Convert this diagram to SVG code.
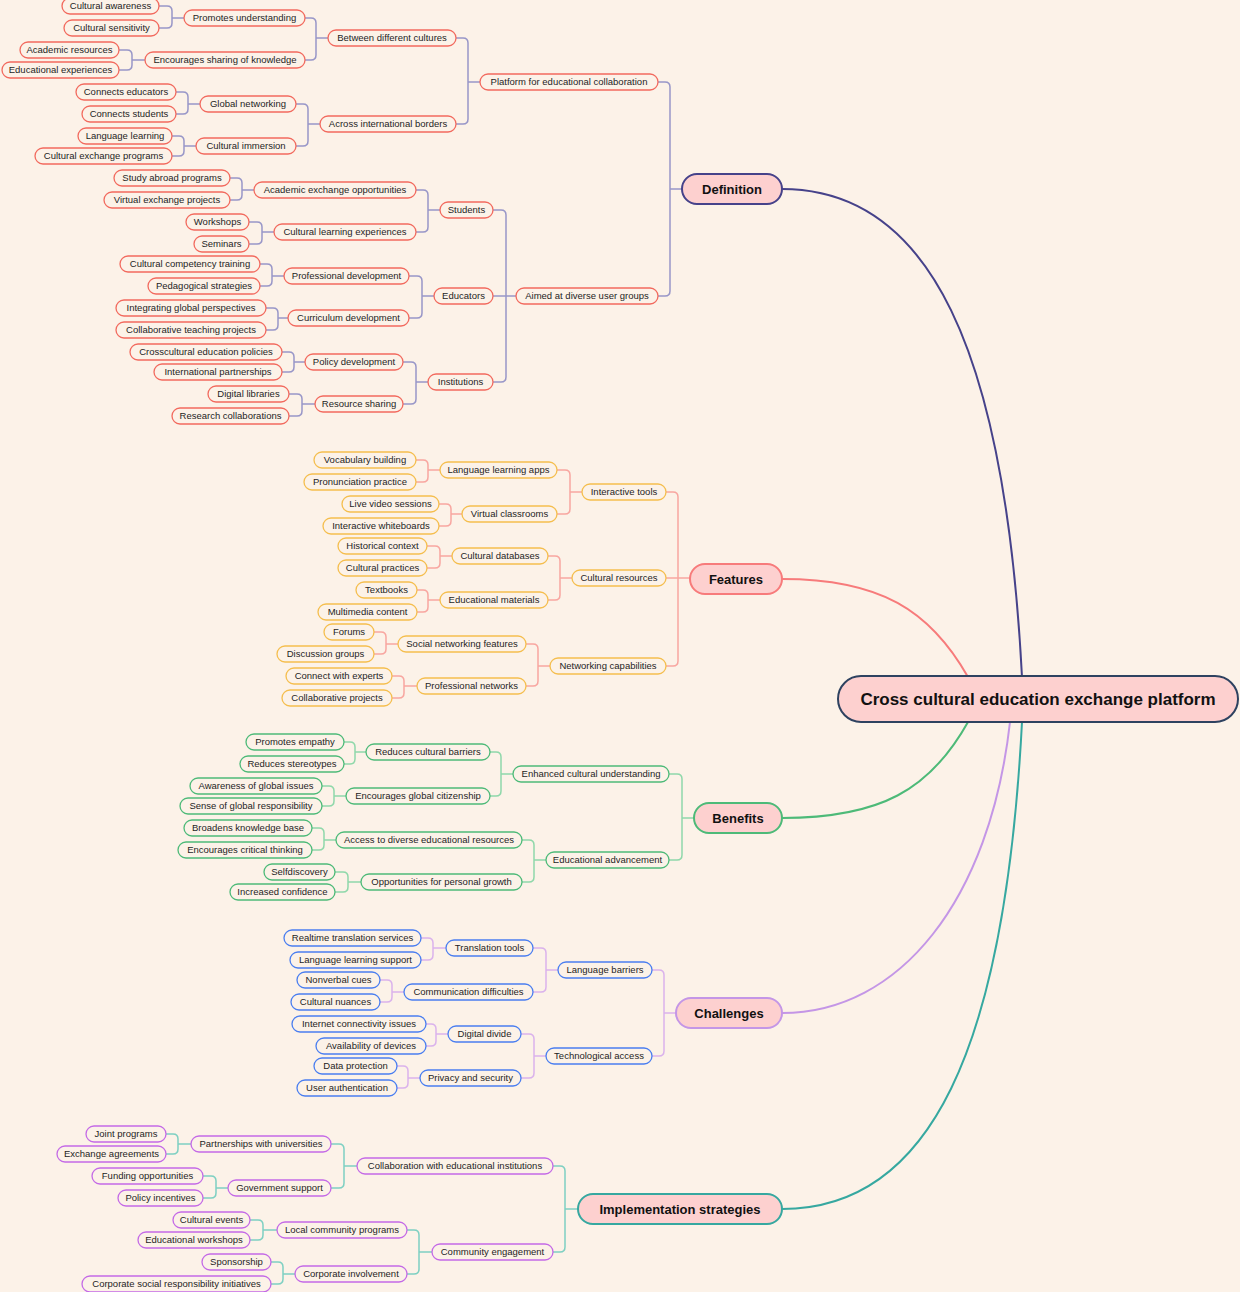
<svg xmlns="http://www.w3.org/2000/svg" width="1240" height="1292" viewBox="0 0 1240 1292">
<style>
.bg{fill:#fcf2e8}
.s rect{fill:#fcf2e8;stroke-width:1.3}
.s text{font-family:"Liberation Sans",Arial,sans-serif;font-size:9.5px;fill:#1e1e1e;text-anchor:middle}
.m rect{fill:#fdd0cf;stroke-width:2}
.m text{font-family:"Liberation Sans",Arial,sans-serif;font-size:13px;font-weight:bold;fill:#111;text-anchor:middle}
.d rect{stroke:#f26a5e}
.f rect{stroke:#f5be4e}
.b rect{stroke:#4dba78}
.c rect{stroke:#4a7ef0}
.i rect{stroke:#c46ae6}
.cn path{fill:none;stroke-width:1.5}
.cd path{stroke:#9896c8}
.cf path{stroke:#f8a6a0}
.cb path{stroke:#8fd8aa}
.cc path{stroke:#dab2ec}
.ci path{stroke:#7ed0c2}
.mc path{fill:none;stroke-width:2}
</style>
<rect class="bg" x="0" y="0" width="1240" height="1292"/>
<g id="connectors">
<g class="mc">
<path d="M1022 677C1005 350 930 189 782 189" stroke="#46428a"/>
<path d="M968 677C930 610 880 579 782 579" stroke="#f77b7b"/>
<path d="M968 722C930 790 880 818 782 818" stroke="#4dba78"/>
<path d="M1010 722C990 900 900 1013 782 1013" stroke="#c496e6"/>
<path d="M1022 722C1005 1050 930 1209 782 1209" stroke="#36a8a0"/>
</g>
<g class="cn cd">
<path d="M658 82H665Q670 82 670 87V291Q670 296 665 296H658M670 189H682"/>
<path d="M456 38H463Q468 38 468 43V119Q468 124 463 124H456M468 82H480"/>
<path d="M493 210H501Q506 210 506 215V377Q506 382 501 382H493M493 296H516"/>
<path d="M305 18H311Q316 18 316 23V55Q316 60 311 60H305M316 38H328"/>
<path d="M296 104H303Q308 104 308 109V141Q308 146 303 146H296M308 124H320"/>
<path d="M416 190H423Q428 190 428 195V227Q428 232 423 232H416M428 210H440"/>
<path d="M409 276H417Q422 276 422 281V313Q422 318 417 318H409M422 296H434"/>
<path d="M403 362H411Q416 362 416 367V399Q416 404 411 404H403M416 382H428"/>
<path d="M159 6H167Q172 6 172 11V23Q172 28 167 28H159M172 18H184"/>
<path d="M119 50H127Q132 50 132 55V65Q132 70 127 70H119M132 60H145"/>
<path d="M176 92H183Q188 92 188 97V109Q188 114 183 114H176M188 104H200"/>
<path d="M172 136H179Q184 136 184 141V151Q184 156 179 156H172M184 146H196"/>
<path d="M230 178H237Q242 178 242 183V195Q242 200 237 200H230M242 190H254"/>
<path d="M249 222H257Q262 222 262 227V239Q262 244 257 244H249M262 232H274"/>
<path d="M260 264H267Q272 264 272 269V281Q272 286 267 286H260M272 276H284"/>
<path d="M266 308H273Q278 308 278 313V325Q278 330 273 330H266M278 318H288"/>
<path d="M282 352H289Q294 352 294 357V367Q294 372 289 372H282M294 362H305"/>
<path d="M289 394H297Q302 394 302 399V411Q302 416 297 416H289M302 404H315"/>
</g>
<g class="cn cf">
<path d="M666 492H673Q678 492 678 497V661Q678 666 673 666H666M666 578H690"/>
<path d="M557 470H565Q570 470 570 475V509Q570 514 565 514H557M570 492H582"/>
<path d="M548 556H555Q560 556 560 561V595Q560 600 555 600H548M560 578H572"/>
<path d="M526 644H533Q538 644 538 649V681Q538 686 533 686H526M538 666H550"/>
<path d="M416 460H423Q428 460 428 465V477Q428 482 423 482H416M428 470H440"/>
<path d="M439 504H446Q451 504 451 509V521Q451 526 446 526H439M451 514H462"/>
<path d="M427 546H435Q440 546 440 551V563Q440 568 435 568H427M440 556H452"/>
<path d="M417 590H423Q428 590 428 595V607Q428 612 423 612H417M428 600H440"/>
<path d="M374 632H381Q386 632 386 637V649Q386 654 381 654H374M386 644H398"/>
<path d="M392 676H399Q404 676 404 681V693Q404 698 399 698H392M404 686H417"/>
</g>
<g class="cn cb">
<path d="M669 774H677Q682 774 682 779V855Q682 860 677 860H669M682 818H694"/>
<path d="M490 752H496Q501 752 501 757V791Q501 796 496 796H490M501 774H513"/>
<path d="M522 840H529Q534 840 534 845V877Q534 882 529 882H522M534 860H546"/>
<path d="M344 742H350Q355 742 355 747V759Q355 764 350 764H344M355 752H366"/>
<path d="M322 786H329Q334 786 334 791V801Q334 806 329 806H322M334 796H346"/>
<path d="M312 828H319Q324 828 324 833V845Q324 850 319 850H312M324 840H336"/>
<path d="M335 872H343Q348 872 348 877V887Q348 892 343 892H335M348 882H361"/>
</g>
<g class="cn cc">
<path d="M652 970H659Q664 970 664 975V1051Q664 1056 659 1056H652M664 1013H676"/>
<path d="M533 948H541Q546 948 546 953V987Q546 992 541 992H533M546 970H558"/>
<path d="M521 1034H529Q534 1034 534 1039V1073Q534 1078 529 1078H521M534 1056H546"/>
<path d="M421 938H428Q433 938 433 943V955Q433 960 428 960H421M433 948H446"/>
<path d="M380 980H387Q392 980 392 985V997Q392 1002 387 1002H380M392 992H404"/>
<path d="M426 1024H431Q436 1024 436 1029V1041Q436 1046 431 1046H426M436 1034H448"/>
<path d="M397 1066H403Q408 1066 408 1071V1083Q408 1088 403 1088H397M408 1078H420"/>
</g>
<g class="cn ci">
<path d="M553 1166H560Q565 1166 565 1171V1247Q565 1252 560 1252H553M565 1209H578"/>
<path d="M331 1144H339Q344 1144 344 1149V1183Q344 1188 339 1188H331M344 1166H357"/>
<path d="M407 1230H414Q419 1230 419 1235V1269Q419 1274 414 1274H407M419 1252H432"/>
<path d="M166 1134H173Q178 1134 178 1139V1149Q178 1154 173 1154H166M178 1144H191"/>
<path d="M203 1176H211Q216 1176 216 1181V1193Q216 1198 211 1198H203M216 1188H228"/>
<path d="M250 1220H258Q263 1220 263 1225V1235Q263 1240 258 1240H250M263 1230H277"/>
<path d="M271 1262H278Q283 1262 283 1267V1279Q283 1284 278 1284H271M283 1274H295"/>
</g>
</g>

<g id="root" class="m"><rect x="838" y="676" width="400" height="46" rx="23" stroke="#2e4260"/><text x="1038" y="705" style="font-size:17px">Cross cultural education exchange platform</text></g>
<g id="definition" class="m"><rect x="682" y="174" width="100" height="30" rx="15" stroke="#46428a"/><text x="732" y="193.6">Definition</text></g>
<g id="features" class="m"><rect x="690" y="564" width="92" height="30" rx="15" stroke="#f77b7b"/><text x="736" y="583.6">Features</text></g>
<g id="benefits" class="m"><rect x="694" y="803" width="88" height="30" rx="15" stroke="#4dba78"/><text x="738" y="822.6">Benefits</text></g>
<g id="challenges" class="m"><rect x="676" y="998" width="106" height="30" rx="15" stroke="#c496e6"/><text x="729" y="1017.6">Challenges</text></g>
<g id="implementation" class="m"><rect x="578" y="1194" width="204" height="30" rx="15" stroke="#36a8a0"/><text x="680" y="1213.6">Implementation strategies</text></g>

<g class="s d">
<g id="n-platform"><rect x="480" y="74" width="178" height="16" rx="8"/><text x="569" y="85.4">Platform for educational collaboration</text></g>
<g id="n-aimed"><rect x="516" y="288" width="142" height="16" rx="8"/><text x="587" y="299.4">Aimed at diverse user groups</text></g>
<g id="n-between"><rect x="328" y="30" width="128" height="16" rx="8"/><text x="392" y="41.4">Between different cultures</text></g>
<g id="n-across"><rect x="320" y="116" width="136" height="16" rx="8"/><text x="388" y="127.4">Across international borders</text></g>
<g id="n-students"><rect x="440" y="202" width="53" height="16" rx="8"/><text x="466.5" y="213.4">Students</text></g>
<g id="n-educators"><rect x="434" y="288" width="59" height="16" rx="8"/><text x="463.5" y="299.4">Educators</text></g>
<g id="n-institutions"><rect x="428" y="374" width="65" height="16" rx="8"/><text x="460.5" y="385.4">Institutions</text></g>
<g id="n-promotes"><rect x="184" y="10" width="121" height="16" rx="8"/><text x="244.5" y="21.4">Promotes understanding</text></g>
<g id="n-sharing"><rect x="145" y="52" width="160" height="16" rx="8"/><text x="225" y="63.4">Encourages sharing of knowledge</text></g>
<g id="n-globalnet"><rect x="200" y="96" width="96" height="16" rx="8"/><text x="248" y="107.4">Global networking</text></g>
<g id="n-immersion"><rect x="196" y="138" width="100" height="16" rx="8"/><text x="246" y="149.4">Cultural immersion</text></g>
<g id="n-academicexch"><rect x="254" y="182" width="162" height="16" rx="8"/><text x="335" y="193.4">Academic exchange opportunities</text></g>
<g id="n-culturallearn"><rect x="274" y="224" width="142" height="16" rx="8"/><text x="345" y="235.4">Cultural learning experiences</text></g>
<g id="n-profdev"><rect x="284" y="268" width="125" height="16" rx="8"/><text x="346.5" y="279.4">Professional development</text></g>
<g id="n-curriculum"><rect x="288" y="310" width="121" height="16" rx="8"/><text x="348.5" y="321.4">Curriculum development</text></g>
<g id="n-policy"><rect x="305" y="354" width="98" height="16" rx="8"/><text x="354" y="365.4">Policy development</text></g>
<g id="n-resource"><rect x="315" y="396" width="88" height="16" rx="8"/><text x="359" y="407.4">Resource sharing</text></g>
<g id="n-awareness"><rect x="62" y="-2" width="97" height="16" rx="8"/><text x="110.5" y="9.4">Cultural awareness</text></g>
<g id="n-sensitivity"><rect x="64" y="20" width="95" height="16" rx="8"/><text x="111.5" y="31.4">Cultural sensitivity</text></g>
<g id="n-acadres"><rect x="20" y="42" width="99" height="16" rx="8"/><text x="69.5" y="53.4">Academic resources</text></g>
<g id="n-eduexp"><rect x="2" y="62" width="117" height="16" rx="8"/><text x="60.5" y="73.4">Educational experiences</text></g>
<g id="n-conneduc"><rect x="76" y="84" width="100" height="16" rx="8"/><text x="126" y="95.4">Connects educators</text></g>
<g id="n-connstud"><rect x="82" y="106" width="94" height="16" rx="8"/><text x="129" y="117.4">Connects students</text></g>
<g id="n-langlearn"><rect x="78" y="128" width="94" height="16" rx="8"/><text x="125" y="139.4">Language learning</text></g>
<g id="n-culturalexch"><rect x="35" y="148" width="137" height="16" rx="8"/><text x="103.5" y="159.4">Cultural exchange programs</text></g>
<g id="n-studyabroad"><rect x="114" y="170" width="116" height="16" rx="8"/><text x="172" y="181.4">Study abroad programs</text></g>
<g id="n-virtualexch"><rect x="104" y="192" width="126" height="16" rx="8"/><text x="167" y="203.4">Virtual exchange projects</text></g>
<g id="n-workshops"><rect x="186" y="214" width="63" height="16" rx="8"/><text x="217.5" y="225.4">Workshops</text></g>
<g id="n-seminars"><rect x="194" y="236" width="55" height="16" rx="8"/><text x="221.5" y="247.4">Seminars</text></g>
<g id="n-competency"><rect x="120" y="256" width="140" height="16" rx="8"/><text x="190" y="267.4">Cultural competency training</text></g>
<g id="n-pedagogical"><rect x="148" y="278" width="112" height="16" rx="8"/><text x="204" y="289.4">Pedagogical strategies</text></g>
<g id="n-integrating"><rect x="116" y="300" width="150" height="16" rx="8"/><text x="191" y="311.4">Integrating global perspectives</text></g>
<g id="n-collabteach"><rect x="116" y="322" width="150" height="16" rx="8"/><text x="191" y="333.4">Collaborative teaching projects</text></g>
<g id="n-crosscultural"><rect x="130" y="344" width="152" height="16" rx="8"/><text x="206" y="355.4">Crosscultural education policies</text></g>
<g id="n-intlpartner"><rect x="154" y="364" width="128" height="16" rx="8"/><text x="218" y="375.4">International partnerships</text></g>
<g id="n-digilib"><rect x="208" y="386" width="81" height="16" rx="8"/><text x="248.5" y="397.4">Digital libraries</text></g>
<g id="n-research"><rect x="172" y="408" width="117" height="16" rx="8"/><text x="230.5" y="419.4">Research collaborations</text></g>
</g>

<g class="s f">
<g id="n-inttools"><rect x="582" y="484" width="84" height="16" rx="8"/><text x="624" y="495.4">Interactive tools</text></g>
<g id="n-culturalres"><rect x="572" y="570" width="94" height="16" rx="8"/><text x="619" y="581.4">Cultural resources</text></g>
<g id="n-netcap"><rect x="550" y="658" width="116" height="16" rx="8"/><text x="608" y="669.4">Networking capabilities</text></g>
<g id="n-langapps"><rect x="440" y="462" width="117" height="16" rx="8"/><text x="498.5" y="473.4">Language learning apps</text></g>
<g id="n-virtclass"><rect x="462" y="506" width="95" height="16" rx="8"/><text x="509.5" y="517.4">Virtual classrooms</text></g>
<g id="n-culturaldb"><rect x="452" y="548" width="96" height="16" rx="8"/><text x="500" y="559.4">Cultural databases</text></g>
<g id="n-edumat"><rect x="440" y="592" width="108" height="16" rx="8"/><text x="494" y="603.4">Educational materials</text></g>
<g id="n-socialnet"><rect x="398" y="636" width="128" height="16" rx="8"/><text x="462" y="647.4">Social networking features</text></g>
<g id="n-profnet"><rect x="417" y="678" width="109" height="16" rx="8"/><text x="471.5" y="689.4">Professional networks</text></g>
<g id="n-vocab"><rect x="314" y="452" width="102" height="16" rx="8"/><text x="365" y="463.4">Vocabulary building</text></g>
<g id="n-pronun"><rect x="304" y="474" width="112" height="16" rx="8"/><text x="360" y="485.4">Pronunciation practice</text></g>
<g id="n-livevideo"><rect x="342" y="496" width="97" height="16" rx="8"/><text x="390.5" y="507.4">Live video sessions</text></g>
<g id="n-whiteboards"><rect x="323" y="518" width="116" height="16" rx="8"/><text x="381" y="529.4">Interactive whiteboards</text></g>
<g id="n-historical"><rect x="338" y="538" width="89" height="16" rx="8"/><text x="382.5" y="549.4">Historical context</text></g>
<g id="n-practices"><rect x="338" y="560" width="89" height="16" rx="8"/><text x="382.5" y="571.4">Cultural practices</text></g>
<g id="n-textbooks"><rect x="356" y="582" width="61" height="16" rx="8"/><text x="386.5" y="593.4">Textbooks</text></g>
<g id="n-multimedia"><rect x="318" y="604" width="99" height="16" rx="8"/><text x="367.5" y="615.4">Multimedia content</text></g>
<g id="n-forums"><rect x="324" y="624" width="50" height="16" rx="8"/><text x="349" y="635.4">Forums</text></g>
<g id="n-discussion"><rect x="277" y="646" width="97" height="16" rx="8"/><text x="325.5" y="657.4">Discussion groups</text></g>
<g id="n-experts"><rect x="286" y="668" width="106" height="16" rx="8"/><text x="339" y="679.4">Connect with experts</text></g>
<g id="n-collabproj"><rect x="282" y="690" width="110" height="16" rx="8"/><text x="337" y="701.4">Collaborative projects</text></g>
</g>

<g class="s b">
<g id="n-enhanced"><rect x="513" y="766" width="156" height="16" rx="8"/><text x="591" y="777.4">Enhanced cultural understanding</text></g>
<g id="n-eduadv"><rect x="546" y="852" width="123" height="16" rx="8"/><text x="607.5" y="863.4">Educational advancement</text></g>
<g id="n-reduces"><rect x="366" y="744" width="124" height="16" rx="8"/><text x="428" y="755.4">Reduces cultural barriers</text></g>
<g id="n-citizenship"><rect x="346" y="788" width="144" height="16" rx="8"/><text x="418" y="799.4">Encourages global citizenship</text></g>
<g id="n-access"><rect x="336" y="832" width="186" height="16" rx="8"/><text x="429" y="843.4">Access to diverse educational resources</text></g>
<g id="n-opport"><rect x="361" y="874" width="161" height="16" rx="8"/><text x="441.5" y="885.4">Opportunities for personal growth</text></g>
<g id="n-empathy"><rect x="246" y="734" width="98" height="16" rx="8"/><text x="295" y="745.4">Promotes empathy</text></g>
<g id="n-stereotypes"><rect x="240" y="756" width="104" height="16" rx="8"/><text x="292" y="767.4">Reduces stereotypes</text></g>
<g id="n-globalissues"><rect x="190" y="778" width="132" height="16" rx="8"/><text x="256" y="789.4">Awareness of global issues</text></g>
<g id="n-responsibility"><rect x="180" y="798" width="142" height="16" rx="8"/><text x="251" y="809.4">Sense of global responsibility</text></g>
<g id="n-broadens"><rect x="184" y="820" width="128" height="16" rx="8"/><text x="248" y="831.4">Broadens knowledge base</text></g>
<g id="n-critical"><rect x="178" y="842" width="134" height="16" rx="8"/><text x="245" y="853.4">Encourages critical thinking</text></g>
<g id="n-selfdisc"><rect x="264" y="864" width="71" height="16" rx="8"/><text x="299.5" y="875.4">Selfdiscovery</text></g>
<g id="n-confidence"><rect x="230" y="884" width="105" height="16" rx="8"/><text x="282.5" y="895.4">Increased confidence</text></g>
</g>

<g class="s c">
<g id="n-langbarriers"><rect x="558" y="962" width="94" height="16" rx="8"/><text x="605" y="973.4">Language barriers</text></g>
<g id="n-techaccess"><rect x="546" y="1048" width="106" height="16" rx="8"/><text x="599" y="1059.4">Technological access</text></g>
<g id="n-transtools"><rect x="446" y="940" width="87" height="16" rx="8"/><text x="489.5" y="951.4">Translation tools</text></g>
<g id="n-commdiff"><rect x="404" y="984" width="129" height="16" rx="8"/><text x="468.5" y="995.4">Communication difficulties</text></g>
<g id="n-digidivide"><rect x="448" y="1026" width="73" height="16" rx="8"/><text x="484.5" y="1037.4">Digital divide</text></g>
<g id="n-privacy"><rect x="420" y="1070" width="101" height="16" rx="8"/><text x="470.5" y="1081.4">Privacy and security</text></g>
<g id="n-realtime"><rect x="284" y="930" width="137" height="16" rx="8"/><text x="352.5" y="941.4">Realtime translation services</text></g>
<g id="n-langsupport"><rect x="290" y="952" width="131" height="16" rx="8"/><text x="355.5" y="963.4">Language learning support</text></g>
<g id="n-nonverbal"><rect x="297" y="972" width="83" height="16" rx="8"/><text x="338.5" y="983.4">Nonverbal cues</text></g>
<g id="n-nuances"><rect x="291" y="994" width="89" height="16" rx="8"/><text x="335.5" y="1005.4">Cultural nuances</text></g>
<g id="n-internet"><rect x="292" y="1016" width="134" height="16" rx="8"/><text x="359" y="1027.4">Internet connectivity issues</text></g>
<g id="n-devices"><rect x="316" y="1038" width="110" height="16" rx="8"/><text x="371" y="1049.4">Availability of devices</text></g>
<g id="n-dataprot"><rect x="314" y="1058" width="83" height="16" rx="8"/><text x="355.5" y="1069.4">Data protection</text></g>
<g id="n-userauth"><rect x="297" y="1080" width="100" height="16" rx="8"/><text x="347" y="1091.4">User authentication</text></g>
</g>

<g class="s i">
<g id="n-collabinst"><rect x="357" y="1158" width="196" height="16" rx="8"/><text x="455" y="1169.4">Collaboration with educational institutions</text></g>
<g id="n-community"><rect x="432" y="1244" width="121" height="16" rx="8"/><text x="492.5" y="1255.4">Community engagement</text></g>
<g id="n-partnerships"><rect x="191" y="1136" width="140" height="16" rx="8"/><text x="261" y="1147.4">Partnerships with universities</text></g>
<g id="n-govsupport"><rect x="228" y="1180" width="103" height="16" rx="8"/><text x="279.5" y="1191.4">Government support</text></g>
<g id="n-localcomm"><rect x="277" y="1222" width="130" height="16" rx="8"/><text x="342" y="1233.4">Local community programs</text></g>
<g id="n-corporate"><rect x="295" y="1266" width="112" height="16" rx="8"/><text x="351" y="1277.4">Corporate involvement</text></g>
<g id="n-joint"><rect x="86" y="1126" width="80" height="16" rx="8"/><text x="126" y="1137.4">Joint programs</text></g>
<g id="n-exchagree"><rect x="57" y="1146" width="109" height="16" rx="8"/><text x="111.5" y="1157.4">Exchange agreements</text></g>
<g id="n-funding"><rect x="92" y="1168" width="111" height="16" rx="8"/><text x="147.5" y="1179.4">Funding opportunities</text></g>
<g id="n-incentives"><rect x="118" y="1190" width="85" height="16" rx="8"/><text x="160.5" y="1201.4">Policy incentives</text></g>
<g id="n-events"><rect x="173" y="1212" width="77" height="16" rx="8"/><text x="211.5" y="1223.4">Cultural events</text></g>
<g id="n-eduworkshops"><rect x="138" y="1232" width="112" height="16" rx="8"/><text x="194" y="1243.4">Educational workshops</text></g>
<g id="n-sponsorship"><rect x="202" y="1254" width="69" height="16" rx="8"/><text x="236.5" y="1265.4">Sponsorship</text></g>
<g id="n-csr"><rect x="82" y="1276" width="189" height="16" rx="8"/><text x="176.5" y="1287.4">Corporate social responsibility initiatives</text></g>
</g>
</svg>
